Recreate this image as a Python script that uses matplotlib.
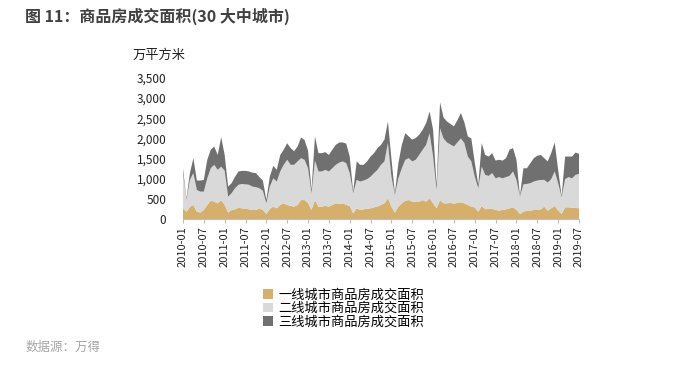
import numpy as np
import pandas as pd
import matplotlib
matplotlib.use("Agg")
import matplotlib.pyplot as plt

plt.rcParams['font.family'] = ['Noto Sans CJK SC', 'DejaVu Sans']

# 月份 2010-01 .. 2019-07
months = pd.date_range('2010-01', periods=115, freq='MS').strftime('%Y-%m').tolist()

tier1 = [265, 180, 300, 350, 180, 160, 225, 350, 455, 430, 390, 470, 350, 160, 225, 240,
         280, 265, 257, 240, 225, 225, 265, 225, 125, 250, 307, 265, 350, 390, 350, 325,
         307, 350, 470, 470, 400, 225, 470, 307, 307, 325, 307, 350, 390, 375, 390, 350,
         325, 140, 265, 225, 240, 257, 265, 290, 307, 350, 390, 515, 307, 160, 307, 390,
         455, 470, 430, 430, 430, 470, 430, 515, 390, 265, 470, 390, 390, 400, 380, 400,
         415, 390, 350, 307, 290, 180, 325, 240, 257, 250, 225, 207, 225, 240, 265, 290,
         225, 125, 180, 207, 207, 225, 225, 240, 307, 207, 265, 325, 207, 125, 290, 290,
         282, 275, 265]
tier2 = [875, 300, 670, 790, 540, 520, 455, 660, 805, 915, 830, 830, 850, 395, 415, 525,
         570, 605, 603, 610, 580, 565, 500, 475, 265, 555, 703, 665, 830, 955, 1120, 1020,
         1038, 1080, 1040, 1000, 860, 415, 980, 873, 873, 895, 873, 910, 955, 1025, 1040, 1035,
         815, 500, 705, 705, 715, 733, 785, 850, 913, 995, 1040, 1370, 743, 440, 703, 870,
         1015, 1040, 1000, 1040, 1160, 1250, 1410, 1615, 1160, 455, 1780, 1610, 1510, 1450, 1420, 1500,
         1585, 1495, 1200, 1123, 760, 585, 975, 855, 813, 890, 785, 833, 785, 800, 805, 890,
         745, 430, 680, 663, 683, 705, 730, 730, 663, 698, 725, 855, 683, 415, 700, 750,
         728, 820, 855]
tier3 = [110, 35, 170, 370, 235, 275, 290, 460, 460, 455, 370, 730, 390, 250, 250, 285,
         330, 325, 335, 330, 345, 350, 275, 255, 85, 245, 310, 290, 410, 375, 410, 415,
         335, 370, 515, 490, 440, 80, 600, 455, 455, 440, 410, 460, 495, 500, 470, 485,
         410, 40, 460, 415, 390, 440, 500, 495, 540, 495, 540, 535, 450, 40, 375, 580,
         660, 540, 540, 540, 500, 495, 540, 540, 665, 125, 650, 520, 520, 510, 500, 550,
         630, 515, 500, 570, 350, 85, 585, 495, 480, 495, 440, 430, 440, 470, 650, 580,
         500, 20, 400, 390, 495, 580, 615, 620, 540, 525, 645, 720, 330, 30, 560, 510,
         540, 555, 500]

series_names = ['一线城市商品房成交面积', '二线城市商品房成交面积', '三线城市商品房成交面积']
colors = ['#D6B06B', '#D9D9D9', '#707070']
yticks = [0, 500, 1000, 1500, 2000, 2500, 3000, 3500]

fig = plt.figure(figsize=(6.84, 3.66), dpi=100)
ax = fig.add_axes([0.2675, 0.4016, 0.579, 0.3853])

x = np.arange(len(months))
ax.stackplot(x, tier1, tier2, tier3, colors=colors, labels=series_names, linewidth=0)

ax.set_xlim(0, len(months) - 1)
ax.set_ylim(0, 3500)
ax.set_xticks(x[::6])
ax.set_xticklabels(months[::6], rotation=90, fontsize=8, color='#222222')
ax.set_yticks(yticks)
ax.set_yticklabels([f'{v:,}' for v in yticks], fontsize=8.5, color='#222222')
ax.tick_params(axis='y', length=0, pad=12)
ax.tick_params(axis='x', length=3, color='#BFBFBF', pad=2)
for s in ['top', 'right', 'left']:
    ax.spines[s].set_visible(False)
ax.spines['bottom'].set_color('#BFBFBF')
ax.spines['bottom'].set_linewidth(0.8)

fig.text(0.194, 0.84, '万平方米', fontsize=9.5, color='#222222')
fig.text(0.037, 0.955, '图 11：商品房成交面积(30 大中城市)', fontsize=11.5,
         fontweight='bold', color='#404040', va='center')
fig.text(0.037, 0.04, '数据源：万得', fontsize=9, color='#A6A6A6', style='italic')

leg = ax.legend(loc='upper left', bbox_to_anchor=(0.19, -0.455), frameon=False,
                fontsize=9.5, handlelength=0.75, handleheight=0.75, handletextpad=0.35,
                labelspacing=0.05, borderaxespad=0)

fig.savefig('out.png', dpi=100)
